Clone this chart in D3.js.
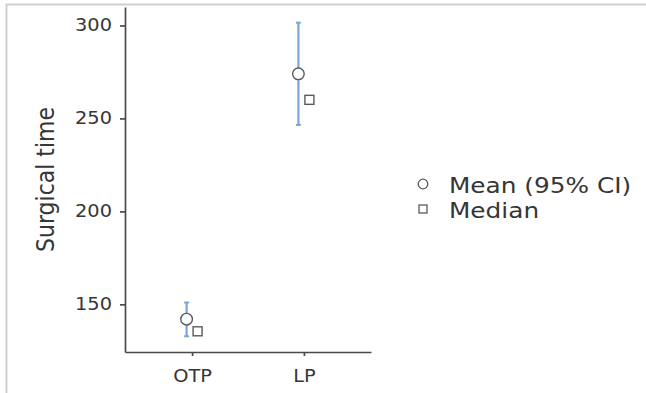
<!DOCTYPE html>
<html><head><meta charset="utf-8">
<script src="https://cdn.jsdelivr.net/npm/d3@7"></script>
<style>body{margin:0;background:#fff}svg{display:block}</style>
</head><body>
<svg id="c" width="646" height="393"></svg>
<script>
const categories = ["OTP", "LP"];
const meanValues = [142, 274];
const ciLower = [132.8, 246.5];
const ciUpper = [151, 301.5];
const medianValues = [135.5, 260];
const yTicks = [150, 200, 250, 300];
const legendLabels = ["Mean (95% CI)", "Median"];

(function () {
const svg = d3.select("#c");
const font = "'DejaVu Sans', sans-serif";
const textColor = "#363636";
const axisColor = "#4a4a4a";
const ciColor = "#7ba4dd";
const markStroke = "#5a5a5a";
const sx = 1.14; // horizontal text stretch seen in reference

// frame border
svg.append("path").attr("d", "M6.5,393 V4.5 H646")
  .attr("fill", "none").attr("stroke", "#d0d0d0").attr("stroke-width", 2);

const mL = 125, mR = 371, mT = 7, mB = 352;
const lo = d3.min(ciLower), hi = d3.max(ciUpper), pad = (hi - lo) * 0.05;
const y = d3.scaleLinear().domain([lo - pad, hi + pad]).range([mB, mT]);
const x = d3.scalePoint().domain(categories).range([mL, mR]).padding(0.6);
const dodge = 5.5;

// y axis
const gy = svg.append("g").attr("transform", `translate(${mL},0)`)
  .call(d3.axisLeft(y).tickValues(yTicks).tickSize(5).tickPadding(7).tickSizeOuter(0));
gy.select(".domain").attr("stroke", axisColor).attr("stroke-width", 1.7);
gy.selectAll(".tick line").attr("stroke", axisColor).attr("stroke-width", 1.7);
gy.selectAll(".tick text").attr("fill", textColor).style("font-family", font).style("font-size", "17px")
  .attr("transform", `translate(-13,0) scale(${sx},1)`).attr("x", 0);

// x axis
const gx = svg.append("g").attr("transform", `translate(0,${mB})`)
  .call(d3.axisBottom(x).tickSize(4).tickPadding(14).tickSizeOuter(0));
gx.select(".domain").attr("stroke", axisColor).attr("stroke-width", 1.7);
gx.selectAll(".tick line").attr("stroke", axisColor).attr("stroke-width", 1.7);
gx.selectAll(".tick text").attr("fill", textColor).style("font-family", font).style("font-size", "17px")
  .attr("transform", `translate(0,18) scale(${sx},1)`).attr("y", 0);

// y label
svg.append("text")
  .attr("transform", `translate(54,${(mT + mB) / 2}) scale(1.15,1) rotate(-90)`)
  .attr("text-anchor", "middle")
  .attr("fill", textColor).style("font-family", font).style("font-size", "22px")
  .text("Surgical time");

const data = categories.map((c, i) => ({ c, mean: meanValues[i], lo: ciLower[i], hi: ciUpper[i], med: medianValues[i] }));

// error bars
const eb = svg.append("g");
data.forEach(d => {
  const cx = x(d.c) - dodge;
  eb.append("line").attr("x1", cx).attr("x2", cx).attr("y1", y(d.lo)).attr("y2", y(d.hi))
    .attr("stroke", ciColor).attr("stroke-width", 2.2);
  [d.lo, d.hi].forEach(v => eb.append("line").attr("x1", cx - 2.5).attr("x2", cx + 2.5)
    .attr("y1", y(v)).attr("y2", y(v)).attr("stroke", ciColor).attr("stroke-width", 2));
});

// means
svg.append("g").selectAll("circle").data(data).join("circle")
  .attr("cx", d => x(d.c) - dodge).attr("cy", d => y(d.mean)).attr("r", 5.8)
  .attr("fill", "#fff").attr("stroke", markStroke).attr("stroke-width", 1.4);

// medians
svg.append("g").selectAll("rect").data(data).join("rect")
  .attr("x", d => x(d.c) + dodge - 4.5).attr("y", d => y(d.med) - 4.5)
  .attr("width", 9).attr("height", 9)
  .attr("fill", "#fff").attr("stroke", markStroke).attr("stroke-width", 1.4);

// legend
const lg = svg.append("g").attr("transform", "translate(423,184)");
lg.append("circle").attr("cx", 0).attr("cy", 0).attr("r", 4.8)
  .attr("fill", "#fff").attr("stroke", markStroke).attr("stroke-width", 1.3);
lg.append("rect").attr("x", -4).attr("y", 21).attr("width", 8).attr("height", 8)
  .attr("fill", "#fff").attr("stroke", markStroke).attr("stroke-width", 1.3);
lg.selectAll("text").data(legendLabels).join("text")
  .attr("transform", (d, i) => `translate(26,${i * 25 + 9}) scale(1.18,1)`)
  .attr("fill", textColor).style("font-family", font).style("font-size", "21px")
  .text(d => d);
})();
</script>
</body></html>
